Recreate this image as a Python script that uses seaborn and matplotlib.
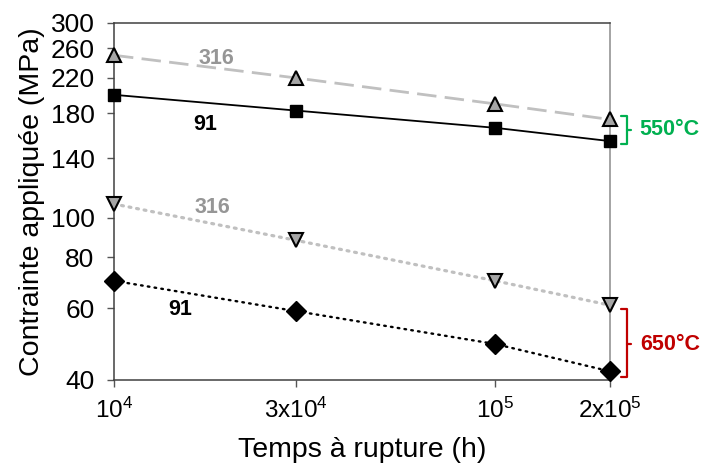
import seaborn as sns
import matplotlib.pyplot as plt
import pandas as pd

# temps a rupture (h)
temps = [1e4, 3e4, 1e5, 2e5]
# contrainte (MPa)
acier316_550 = [250, 220, 190, 174]
acier91_550 = [200, 183, 166, 154]
acier316_650 = [108, 88, 70, 61]
acier91_650 = [70, 59, 49, 42]

yticks = [40, 60, 80, 100, 140, 180, 220, 260, 300]
xticks = [1e4, 3e4, 1e5, 2e5]
xticklabels = ['$10^4$', '3x$10^4$', '$10^5$', '2x$10^5$']

sns.set_style('white')
plt.rcParams['font.family'] = ['Liberation Sans', 'DejaVu Sans']
plt.rcParams['mathtext.fontset'] = 'custom'
plt.rcParams['mathtext.rm'] = 'Liberation Sans'
plt.rcParams['mathtext.default'] = 'regular'
plt.rcParams['text.color'] = 'black'
plt.rcParams['axes.labelcolor'] = 'black'
plt.rcParams['xtick.color'] = 'black'
plt.rcParams['ytick.color'] = 'black'

fig = plt.figure(figsize=(7.02, 4.69), dpi=100)
ax = fig.add_axes([0.1624, 0.1898, 0.7066, 0.7612])

series = [
    (acier316_550, dict(color='#C0C0C0', lw=2.0, dashes=(7, 3)), dict(marker='^', ms=10, mfc='#A6A6A6', mec='black', mew=1.5)),
    (acier91_550, dict(color='black', lw=1.3, dashes=''), dict(marker='s', ms=9, mfc='black', mec='black', mew=1)),
    (acier316_650, dict(color='#C0C0C0', lw=2.3, dashes=(0.6, 1.8)), dict(marker='v', ms=10, mfc='#A6A6A6', mec='black', mew=1.5)),
    (acier91_650, dict(color='black', lw=1.7, dashes=(0.7, 2.2)), dict(marker='D', ms=10, mfc='black', mec='black', mew=1)),
]

for vals, lstyle, mstyle in series:
    df = pd.DataFrame({'t': temps, 'sigma': vals})
    sns.lineplot(data=df, x='t', y='sigma', ax=ax, color=lstyle['color'], lw=lstyle['lw'],
                 dashes=False, linestyle='-', zorder=2)
    line = ax.lines[-1]
    if lstyle['dashes']:
        line.set_dashes(lstyle['dashes'])
        if lstyle['dashes'][0] < 1:
            line.set_dash_capstyle('round')
    ax.plot(temps, vals, linestyle='none', zorder=3, clip_on=False, **mstyle)

ax.set_xscale('log')
ax.set_yscale('log')
ax.set_xlim(1e4, 2e5)
ax.set_ylim(40, 300)
ax.set_xticks(xticks)
ax.set_xticklabels(xticklabels)
ax.set_yticks(yticks)
ax.set_yticklabels([str(v) for v in yticks])
ax.minorticks_off()
ax.tick_params(axis='both', which='major', length=5, width=1,
               color='#555555', labelcolor='black', direction='out')
ax.tick_params(axis='x', pad=8, labelsize=17.5)
ax.tick_params(axis='y', pad=9, labelsize=19)
ax.xaxis.set_ticks_position('bottom')
ax.yaxis.set_ticks_position('left')

for side in ['left', 'bottom', 'top']:
    ax.spines[side].set_color('#404040')
    ax.spines[side].set_linewidth(1.1)
ax.spines['right'].set_color('#8C8C8C')
ax.spines['right'].set_linewidth(1.1)

ax.set_xlabel('Temps à rupture (h)', fontsize=20.5, labelpad=10)
ax.set_ylabel('Contrainte appliquée (MPa)', fontsize=20.5, labelpad=4)

# etiquettes des nuances
ax.text(1.86e4, 246, '316', color='#969696', fontsize=15.5, fontweight='bold', ha='center', va='center')
ax.text(1.73e4, 169, '91', color='black', fontsize=15.5, fontweight='bold', ha='center', va='center')
ax.text(1.81e4, 106, '316', color='#969696', fontsize=15.5, fontweight='bold', ha='center', va='center')
ax.text(1.49e4, 59.4, '91', color='black', fontsize=15.5, fontweight='bold', ha='center', va='center')

# accolades de temperature
def accolade(y0, y1, ym, couleur, texte):
    tr = ax.get_yaxis_transform()
    xa, xb, xc = 1.023, 1.034, 1.043
    ax.plot([xa, xb, xb, xa], [y0, y0, y1, y1], color=couleur, lw=1.6,
            transform=tr, clip_on=False)
    ax.plot([xb, xc], [ym, ym], color=couleur, lw=1.6, transform=tr, clip_on=False)
    ax.text(1.06, ym, texte, color=couleur, fontsize=15.5, fontweight='bold',
            ha='left', va='center', transform=tr)

accolade(177, 151.6, 164, '#00B050', '550°C')
accolade(59.8, 40.7, 49, '#C00000', '650°C')

fig.savefig('out.png', dpi=100)
